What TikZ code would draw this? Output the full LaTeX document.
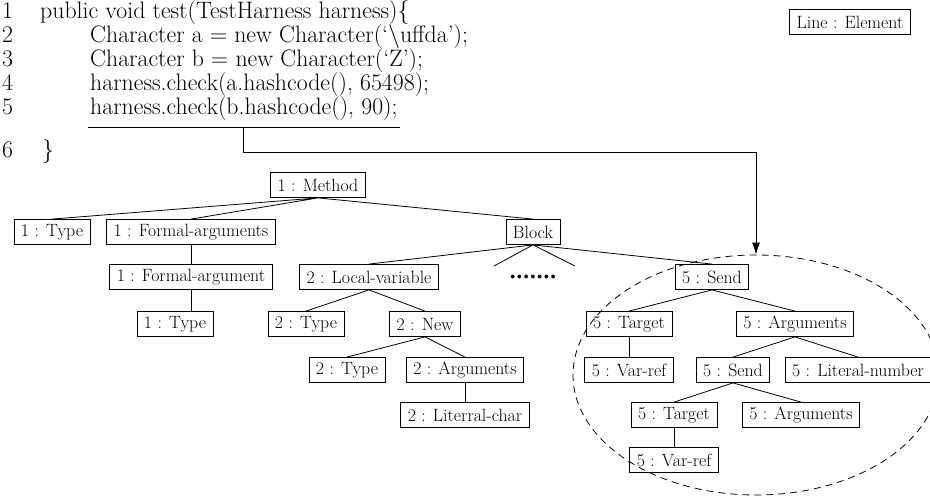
\documentclass[tikz,border=0pt]{standalone}
\usepackage{tikz}
\usetikzlibrary{shapes.geometric, arrows.meta}

\tikzset{
  elem/.style={draw=black, line width=0.8pt, inner xsep=7pt, inner ysep=0pt, minimum height=25pt, font=\fontsize{17.8}{20}\selectfont},
  codeline/.style={anchor=base west, inner sep=0pt, font=\fontsize{23.8}{28}\selectfont},
  link/.style={line width=0.8pt},
}

\begin{document}
\begin{tikzpicture}[x=1pt,y=-1pt]
\useasboundingbox (0,0) rectangle (930,497);
% source lines
\node[codeline] (n1) at (2,19) {1};
\node[codeline] (n2) at (2,43) {2};
\node[codeline] (n3) at (2,67) {3};
\node[codeline] (n4) at (2,91) {4};
\node[codeline] (n5) at (2,115) {5};
\node[codeline] (n6) at (2,158) {6};
\node[codeline] (c1) at (40,19) {public void test(TestHarness harness)\{};
\node[codeline] (c2) at (90,43) {Character a = new Character(`\textbackslash uffda');};
\node[codeline] (c3) at (90,67) {Character b = new Character(`Z');};
\node[codeline] (c4) at (90,91) {harness.check(a.hashcode(), 65498);};
\node[codeline] (c5) at (90,115) {harness.check(b.hashcode(), 90);};
\node[codeline] (c6) at (42,158) {\}};
\draw[link] ([xshift=-2pt,yshift=-12pt]c5.base west) -- ([xshift=2pt,yshift=-12pt]c5.base east);
\node[elem] (legend) at (850,22) {Line : Element};

% tree
\node[elem] (method) at (318,185) {1 : Method};
\node[elem] (type1) at (52,232) {1 : Type};
\node[elem] (fargs) at (191,232) {1 : Formal-arguments};
\node[elem] (block) at (533,232) {Block};
\node[elem] (farg) at (191,277) {1 : Formal-argument};
\node[elem] (local2) at (369,277) {2 : Local-variable};
\node[inner sep=0pt, font=\fontsize{17}{17}\selectfont] (more) at (533,278) {\textbullet\kern-5.5pt\textbullet\kern-5.5pt\textbullet\kern-5.5pt\textbullet\kern-5.5pt\textbullet\kern-5.5pt\textbullet\kern-5.5pt\textbullet};
\node[elem] (send5) at (712,277) {5 : Send};
\node[elem] (type1b) at (175,324) {1 : Type};
\node[elem] (type2) at (306,324) {2 : Type};
\node[elem] (new2) at (425,324) {2 : New};
\node[elem] (target5) at (629,324) {5 : Target};
\node[elem] (args5) at (795,324) {5 : Arguments};
\node[elem] (type2b) at (347,370) {2 : Type};
\node[elem] (args2) at (465,370) {2 : Arguments};
\node[elem] (varref5) at (629,370) {5 : Var-ref};
\node[elem] (send5b) at (733,370) {5 : Send};
\node[elem] (litnum5) at (858,370) {5 : Literal-number};
\node[elem] (litchar2) at (465,415) {2 : Literral-char};
\node[elem] (target5b) at (674,415) {5 : Target};
\node[elem] (args5b) at (801,415) {5 : Arguments};
\node[elem] (varref5b) at (674,460) {5 : Var-ref};

\coordinate (moreL) at (494,266);
\coordinate (moreR) at (575,266);

\draw[link] (method.south) -- (type1.north) (method.south) -- (fargs.north) (method.south) -- (block.north);
\draw[link] (fargs.south) -- (farg.north);
\draw[link] (farg.south) -- (farg.south |- type1b.north);
\draw[link] (block.south) -- (local2.north) (block.south) -- (moreL) (block.south) -- (moreR) (block.south) -- (send5.north);
\draw[link] (local2.south) -- (type2.north) (local2.south) -- (new2.north);
\draw[link] (new2.south) -- (type2b.north) (new2.south) -- (args2.north);
\draw[link] (args2.south) -- (litchar2.north);
\draw[link] (send5.south) -- (target5.north) (send5.south) -- (args5.north);
\draw[link] (target5.south) -- (varref5.north);
\draw[link] (args5.south) -- (send5b.north) (args5.south) -- (litnum5.north);
\draw[link] (send5b.south) -- (target5b.north) (send5b.south) -- (args5b.north);
\draw[link] (target5b.south) -- (varref5b.north);

% region of line 5
\node[ellipse, draw, dashed, dash pattern=on 7pt off 5pt, line width=0.8pt, inner sep=0pt, minimum width=366pt, minimum height=240pt] (focus) at (756,375) {};
\coordinate (tap) at (243,127);
\coordinate (bend) at (243,152);
\draw[link, -{Latex[length=12pt,width=8pt]}] (tap) -- (bend) -| (focus.north);
\end{tikzpicture}
\end{document}
